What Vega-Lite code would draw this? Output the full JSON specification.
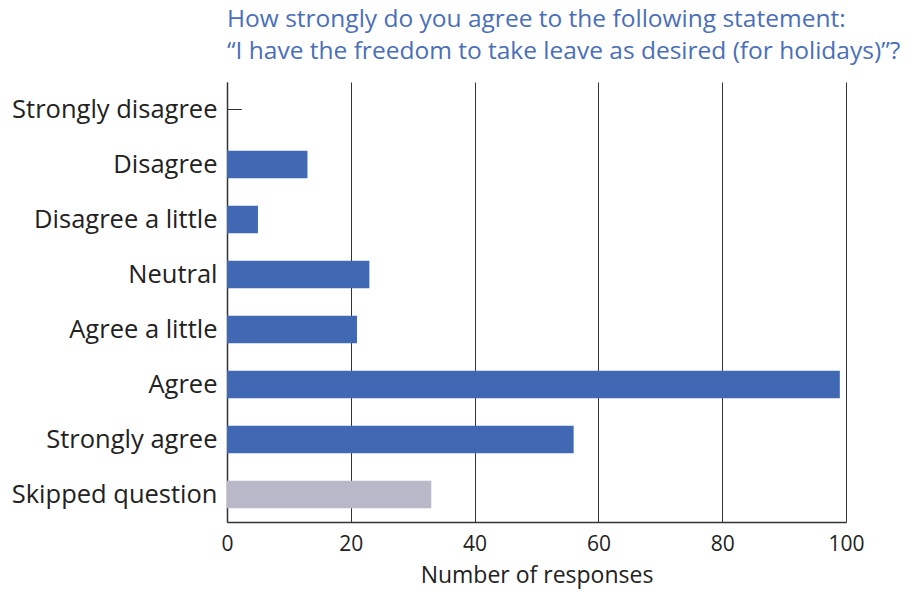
{
  "$schema": "https://vega.github.io/schema/vega-lite/v6.json",
  "autosize": {"type": "none"},
  "width": 619,
  "height": 440,
  "padding": {"left": 227, "top": 82, "right": 78, "bottom": 70},
  "background": "white",
  "title": {
    "text": ["How strongly do you agree to the following statement:", "\u00a0\u201cI have the freedom to take leave as desired (for holidays)\u201d?"],
    "anchor": "start",
    "frame": "group",
    "font": "Open Sans",
    "fontSize": 24.5,
    "fontWeight": "normal",
    "color": "#4a6fb8",
    "lineHeight": 32,
    "offset": 10,
    "dy": -8
  },
  "data": {
    "values": [
      {"response": "Strongly disagree", "count": 0, "group": "answer"},
      {"response": "Disagree", "count": 13, "group": "answer"},
      {"response": "Disagree a little", "count": 5, "group": "answer"},
      {"response": "Neutral", "count": 23, "group": "answer"},
      {"response": "Agree a little", "count": 21, "group": "answer"},
      {"response": "Agree", "count": 99, "group": "answer"},
      {"response": "Strongly agree", "count": 56, "group": "answer"},
      {"response": "Skipped question", "count": 33, "group": "skipped"}
    ]
  },
  "encoding": {
    "y": {
      "field": "response",
      "type": "nominal",
      "sort": null,
      "scale": {"paddingInner": 0.5, "paddingOuter": 0.25},
      "axis": {
        "title": null,
        "labelFont": "Open Sans",
        "labelFontSize": 25.5,
        "labelColor": "#222222",
        "labelPadding": 10,
        "labelLimit": 300,
        "ticks": false,
        "domainColor": "#333333",
        "domainWidth": 1.5
      }
    }
  },
  "layer": [
    {
      "mark": {"type": "bar"},
      "encoding": {
        "x": {
          "field": "count",
          "type": "quantitative",
          "scale": {"domain": [0, 100]},
          "axis": {
            "title": "Number of responses",
            "titleFont": "Open Sans",
            "titleFontSize": 23,
            "titleFontWeight": "normal",
            "titleColor": "#222222",
            "titlePadding": 10,
            "values": [0, 20, 40, 60, 80, 100],
            "labelFont": "Open Sans",
            "labelFontSize": 21,
            "labelColor": "#222222",
            "labelPadding": 11,
            "labelFlush": false,
            "ticks": false,
            "grid": true,
            "gridColor": "#333333",
            "gridWidth": 1,
            "domainColor": "#333333",
            "domainWidth": 1.5
          }
        },
        "color": {
          "field": "group",
          "type": "nominal",
          "scale": {"domain": ["answer", "skipped"], "range": ["#4169b3", "#b8b8c8"]},
          "legend": null
        }
      }
    },
    {
      "transform": [{"filter": "datum.count == 0"}],
      "mark": {"type": "rule", "color": "#333333", "strokeWidth": 1},
      "encoding": {
        "x": {"datum": 0, "type": "quantitative"},
        "x2": {"datum": 2.4}
      }
    }
  ],
  "config": {"view": {"stroke": null}}
}
